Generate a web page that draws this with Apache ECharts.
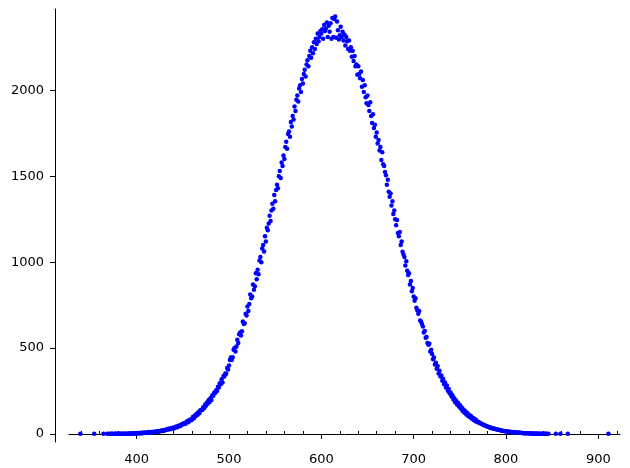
<!DOCTYPE html>
<html>
<head>
<meta charset="utf-8">
<script src="https://cdn.jsdelivr.net/npm/echarts@6/dist/echarts.min.js"></script>
<style>
  html, body { margin: 0; padding: 0; background: #fff; }
  #chart { width: 630px; height: 468px; }
</style>
</head>
<body>
<div id="chart"></div>
<script>
// frequency counts, one per integer x starting at firstX (0 = no point)
const firstX = 390
const counts = [
  2, 3, 1, 3, 2, 4, 3, 2, 5, 3,
  4, 6, 3, 5, 7, 5, 4, 8, 6, 7,
  9, 6, 8, 11, 7, 10, 12, 9, 13, 11,
  12, 15, 14, 17, 13, 16, 19, 17, 22, 18,
  21, 25, 23, 27, 30, 26, 32, 29, 35, 31,
  38, 34, 41, 44, 39, 47, 50, 45, 53, 57,
  55, 62, 64, 60, 70, 75, 68, 78, 84, 80,
  85, 100, 92, 108, 104, 118, 112, 128, 120, 138,
  140, 139, 156, 150, 170, 165, 183, 176, 198, 186,
  210, 198, 226, 222, 240, 238, 255, 250, 275, 270,
  295, 290, 318, 300, 338, 335, 352, 350, 384, 375,
  398, 431, 445, 430, 447, 490, 501, 480, 509, 548,
  530, 581, 590, 573, 598, 655, 640, 645, 700, 690,
  742, 715, 757, 812, 790, 800, 870, 840, 860, 935,
  900, 955, 930, 1010, 1030, 1000, 1080, 1100, 1062, 1150,
  1120, 1200, 1185, 1225, 1270, 1240, 1300, 1340, 1310, 1390,
  1355, 1420, 1450, 1430, 1500, 1530, 1490, 1580, 1560, 1620,
  1600, 1670, 1700, 1660, 1745, 1760, 1730, 1815, 1790, 1850,
  1830, 1905, 1880, 1945, 1970, 1935, 2010, 2030, 1990, 2065,
  2040, 2095, 2120, 2080, 2150, 2175, 2140, 2200, 2230, 2190,
  2250, 2215, 2280, 2240, 2300, 2270, 2330, 2285, 2310, 2345,
  2330, 2355, 2300, 2380, 2345, 2360, 2395, 2310, 2375, 2340,
  2390, 2300, 2420, 2310, 2415, 2430, 2305, 2400, 2350, 2295,
  2320, 2370, 2310, 2340, 2290, 2325, 2260, 2310, 2285, 2240,
  2290, 2230, 2250, 2195, 2230, 2170, 2200, 2140, 2150, 2090,
  2140, 2095, 2070, 2110, 2020, 2060, 1990, 2030, 1960, 1925,
  1970, 1915, 1880, 1930, 1850, 1810, 1860, 1780, 1800, 1730,
  1755, 1690, 1710, 1650, 1670, 1595, 1640, 1570, 1560, 1525,
  1505, 1450, 1480, 1410, 1380, 1400, 1330, 1355, 1280, 1300,
  1250, 1215, 1245, 1170, 1150, 1175, 1100, 1120, 1060, 1045,
  1030, 980, 1005, 950, 925, 935, 870, 890, 830, 850,
  800, 775, 790, 735, 720, 700, 715, 660, 655, 640,
  625, 590, 600, 560, 565, 530, 520, 525, 480, 490,
  465, 435, 445, 405, 415, 380, 395, 352, 368, 335,
  340, 310, 322, 290, 300, 270, 282, 252, 262, 235,
  242, 218, 225, 200, 208, 185, 195, 172, 182, 160,
  168, 148, 155, 134, 142, 124, 132, 113, 122, 104,
  112, 97, 104, 88, 95, 81, 88, 74, 80, 68,
  70, 67, 64, 60, 58, 55, 52, 50, 48, 45,
  43, 41, 39, 37, 36, 34, 32, 31, 30, 28,
  27, 25, 24, 23, 22, 20, 19, 18, 17, 16,
  16, 15, 14, 13, 13, 12, 11, 11, 10, 10,
  9, 9, 8, 8, 7, 7, 7, 6, 6, 5,
  5, 5, 4, 4, 4, 4, 3, 3, 3, 3,
  3, 2, 2, 3, 2, 2, 2, 1, 2, 1,
  1, 2, 1, 1, 1, 0, 1, 0, 0, 0
]
// sparse points in both tails
const tailX = [339, 354, 364, 368, 370, 372, 373, 374, 376, 377, 378, 379, 380, 381, 382, 383, 384, 385, 386, 387, 388, 389, 854, 859, 867, 911]
const tailY = [1, 1, 1, 1, 1, 1, 1, 1, 1, 1, 2, 1, 1, 2, 1, 2, 1, 2, 1, 2, 1, 2, 1, 1, 1, 1]

const xMajor = [400, 500, 600, 700, 800, 900]
const xMinor = [340, 360, 380, 420, 440, 460, 480, 520, 540, 560, 580, 620, 640, 660, 680, 720, 740, 760, 780, 820, 840, 860, 880, 920]
const yMajor = [0, 500, 1000, 1500, 2000]
const yMinor = [100, 200, 300, 400, 600, 700, 800, 900, 1100, 1200, 1300, 1400, 1600, 1700, 1800, 1900, 2100, 2200, 2300, 2400]

const points = []
counts.forEach((c, i) => {
  if (c > 0) points.push([firstX + i, c])
})
tailX.forEach((x, i) => points.push([x, tailY[i]]))

const X_MIN = 326.7, X_MAX = 923.5
const Y_MIN = -46.6, Y_MAX = 2473
const font = { fontFamily: 'DejaVu Sans', fontSize: 13, color: '#000', formatter: v => String(v) }

function xAxisDef(ticks, len, labels) {
  return {
    type: 'value', min: X_MIN, max: X_MAX,
    axisLine: { show: labels, onZero: true, lineStyle: { color: '#000', width: 1 } },
    axisTick: { show: true, customValues: ticks, length: len, lineStyle: { color: '#000', width: 1 } },
    axisLabel: labels ? { show: true, customValues: ticks, margin: 11, ...font } : { show: false },
    splitLine: { show: false }
  }
}

function yAxisDef(ticks, len, labels) {
  return {
    type: 'value', min: Y_MIN, max: Y_MAX, offset: 14,
    axisLine: { show: labels, onZero: false, lineStyle: { color: '#000', width: 1 } },
    axisTick: { show: true, customValues: ticks, length: len, lineStyle: { color: '#000', width: 1 } },
    axisLabel: labels ? { show: true, customValues: ticks, margin: 11, ...font } : { show: false },
    splitLine: { show: false }
  }
}

const chart = echarts.init(document.getElementById('chart'))
chart.setOption({
  animation: false,
  backgroundColor: '#fff',
  grid: { left: 69, right: 10, top: 9, bottom: 26, containLabel: false },
  xAxis: [xAxisDef(xMajor, 5, true), xAxisDef(xMinor, 3, false)],
  yAxis: [yAxisDef(yMajor, 5, true), yAxisDef(yMinor, 3, false)],
  series: [{
    type: 'scatter',
    xAxisIndex: 0,
    yAxisIndex: 0,
    data: points,
    symbol: 'circle',
    symbolSize: 4.5,
    itemStyle: { color: '#0000ff', opacity: 1 }
  }]
})
</script>
</body>
</html>
